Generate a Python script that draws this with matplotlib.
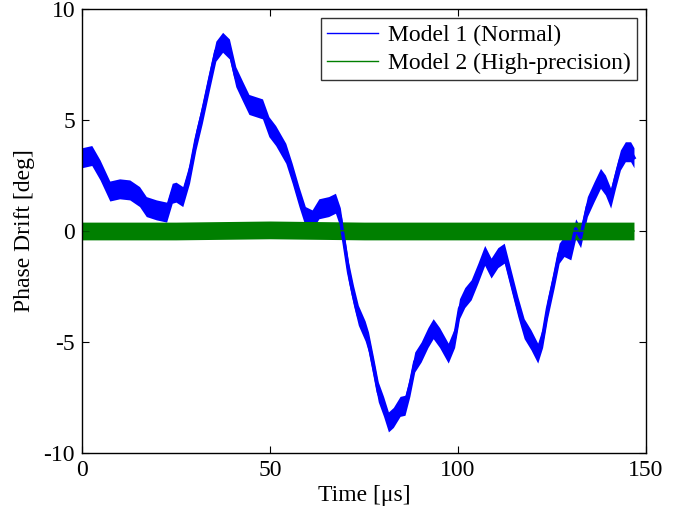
import matplotlib
matplotlib.use("Agg")
import matplotlib.pyplot as plt
import numpy as np

# Model 1 (Normal) - centre of the noisy trace
time_m1 = [0, 2.6, 4.8, 7.4, 10, 12.7, 15.3, 17.1, 19.8, 22.5, 24, 25, 26.8,
           28.6, 30.3, 32, 33.9, 35.6, 37.4, 39.2, 40.9, 42.7, 44.4, 46.2, 48,
           49.7, 51.5, 54.2, 55.9, 57.7, 59.4, 61.2, 63, 65.6, 67.4, 68.7, 70,
           70.9, 72.2, 73.5, 75.3, 76.2, 77.5, 78.8, 80.2, 81.5, 82.8, 84.6,
           85.9, 87.2, 88.5, 90.2, 92, 93.4, 95.1, 97.4, 99.1, 100.4, 101.8,
           103.5, 105.3, 107.1, 108.8, 110.6, 112.3, 114.1, 115.9, 117.6,
           119.4, 121.2, 122.5, 123.8, 125.6, 126.9, 128.2, 130, 131.3, 132.6,
           134.4, 136.2, 137.9, 139.2, 140.6, 141.9, 143.2, 144.5, 145.9, 146.8]
drift_m1 = [3.3, 3.4, 2.75, 1.8, 1.9, 1.85, 1.55, 1.1, 0.95, 0.85, 1.7, 1.75,
            1.55, 2.6, 4.1, 5.3, 6.8, 8.1, 8.5, 8.2, 6.95, 6.3, 5.7, 5.6, 5.5,
            4.7, 4.3, 3.5, 2.6, 1.55, 0.65, 0.5, 1.0, 1.1, 1.25, 0.6, -0.85,
            -1.85, -2.9, -3.8, -4.5, -5.0, -6.1, -7.25, -7.9, -8.6, -8.4, -7.9,
            -7.85, -7.0, -5.9, -5.45, -4.8, -4.4, -4.8, -5.5, -4.8, -3.5, -3.0,
            -2.65, -1.9, -1.1, -1.67, -1.2, -1.0, -2.2, -3.4, -4.4,
            -4.9, -5.5, -4.8, -3.5, -2.1, -1.0, -0.7, -0.85, 0.1, -0.3,
            1.1, 1.77, 2.37, 2.07, 1.48, 2.37, 3.2, 3.57, 3.57, 3.3]

# Model 2 (High-precision) - stays around zero
time_m2 = [0, 25, 50, 75, 100, 125, 146.8]
drift_m2 = [0.0, 0.0, 0.05, 0.0, 0.0, 0.0, 0.0]

plt.rcParams['font.family'] = ['Liberation Serif', 'DejaVu Serif']
plt.rcParams['font.size'] = 17
plt.rcParams['axes.unicode_minus'] = False

fig = plt.figure(figsize=(6.93, 5.14), dpi=100)
ax = fig.add_axes([82 / 693, 1 - 453 / 514, 564 / 693, 444 / 514])

# noise band drawn around the traces
noise = 0.45
ax.fill_between(time_m1, np.array(drift_m1) - noise, np.array(drift_m1) + noise,
                color='#0000ff', lw=0)
ax.plot(time_m1, drift_m1, color='#0000ff', lw=2.5, label='Model 1 (Normal)')
ax.fill_between(time_m2, np.array(drift_m2) - 0.4, np.array(drift_m2) + 0.4,
                color='#007f00', lw=0)
ax.plot(time_m2, drift_m2, color='#007f00', lw=1, label='Model 2 (High-precision)')

ax.set_xlim(0, 150)
ax.set_ylim(-10, 10)
ax.set_xticks([0, 50, 100, 150])
ax.set_yticks([-10, -5, 0, 5, 10])
ax.tick_params(direction='in', top=True, right=True, length=5, width=0.8, pad=5)
for s in ax.spines.values():
    s.set_linewidth(1.0)

ax.set_xlabel('Time [μs]', labelpad=3)
ax.set_ylabel('Phase Drift [deg]', labelpad=6)

leg = ax.legend(loc='upper right', fancybox=False, edgecolor='black',
                handlelength=2.2, borderpad=0.25, labelspacing=0.3,
                handletextpad=0.4, borderaxespad=0.4)
leg.get_frame().set_linewidth(1.0)
for line in leg.get_lines():
    line.set_linewidth(1.0)

fig.savefig('out.png', dpi=100)
